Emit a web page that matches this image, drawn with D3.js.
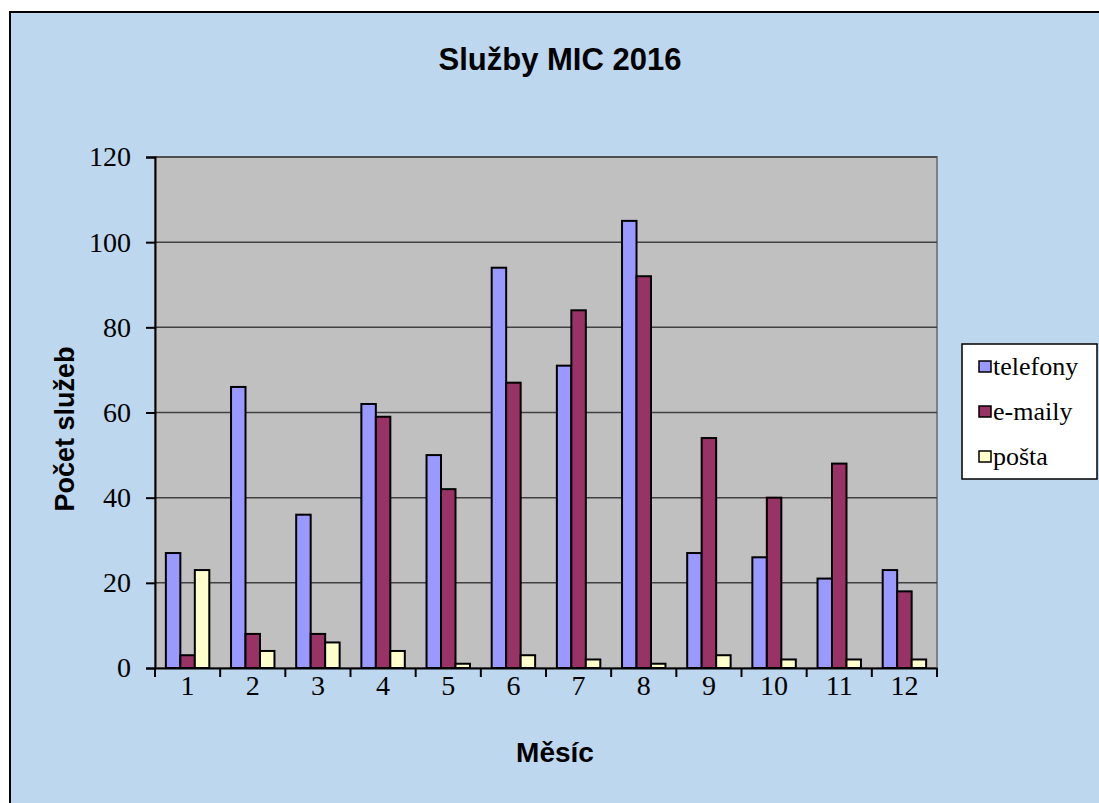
<!DOCTYPE html>
<html lang="en">
<head>
<meta charset="UTF-8">
<title>Služby MIC 2016</title>
<style>
    body { margin: 0; background: #fff; }
    .serif { font-family: "Liberation Serif", "Times New Roman", serif; }
    .sans { font-family: "Liberation Sans", Arial, sans-serif; font-weight: bold; }
</style>
</head>
<body>
<script src="https://d3js.org/d3.v7.min.js"></script>
<script>
    var months = ["1", "2", "3", "4", "5", "6", "7", "8", "9", "10", "11", "12"];
    var seriesNames = ["telefony", "e-maily", "pošta"];
    var telefony = [27, 66, 36, 62, 50, 94, 71, 105, 27, 26, 21, 23];
    var emaily = [3, 8, 8, 59, 42, 67, 84, 92, 54, 40, 48, 18];
    var posta = [23, 4, 6, 4, 1, 3, 2, 1, 3, 2, 2, 2];
    var yTicks = [0, 20, 40, 60, 80, 100, 120];
    var colors = ["#9999FF", "#993366", "#FFFFCC"];

    var width = 1099, height = 803;
    var plot = {left: 155, right: 937, top: 157, bottom: 668};

    var svg = d3.select("body").append("svg")
        .attr("width", width).attr("height", height);

    // chart background
    svg.append("rect")
        .attr("x", 10).attr("y", 12)
        .attr("width", width + 10).attr("height", height + 10)
        .attr("fill", "#BDD7EE")
        .attr("stroke", "#000").attr("stroke-width", 2);

    var x = d3.scaleBand().domain(months).range([plot.left, plot.right]);
    var barW = x.bandwidth() / 4.5;
    var xs = d3.scaleBand().domain(seriesNames)
        .range([barW * 0.75, barW * 3.75]);
    var y = d3.scaleLinear().domain([0, 120]).range([plot.bottom, plot.top]);

    // plot area
    svg.append("rect")
        .attr("x", plot.left).attr("y", plot.top)
        .attr("width", plot.right - plot.left).attr("height", plot.bottom - plot.top)
        .attr("fill", "#C0C0C0")
        .attr("stroke", "#808080").attr("stroke-width", 2);

    // gridlines
    svg.append("g")
        .selectAll("line")
        .data(yTicks.filter(function (d) { return d > 0; }))
        .enter().append("line")
        .attr("x1", plot.left).attr("x2", plot.right)
        .attr("y1", function (d) { return y(d); })
        .attr("y2", function (d) { return y(d); })
        .attr("stroke", "#404040").attr("stroke-width", 1.5);

    // bars
    var data = months.map(function (m, i) {
        return {month: m, values: [telefony[i], emaily[i], posta[i]]};
    });

    var groups = svg.append("g").selectAll("g")
        .data(data).enter().append("g")
        .attr("transform", function (d) { return "translate(" + x(d.month) + ",0)"; });

    groups.selectAll("rect")
        .data(function (d) {
            return d.values.map(function (v, i) { return {name: seriesNames[i], v: v, i: i}; });
        })
        .enter().append("rect")
        .attr("x", function (d) { return xs(d.name); })
        .attr("width", xs.bandwidth())
        .attr("y", function (d) { return y(d.v); })
        .attr("height", function (d) { return y(0) - y(d.v); })
        .attr("fill", function (d) { return colors[d.i]; })
        .attr("stroke", "#000").attr("stroke-width", 2);

    // y axis
    var yAxis = svg.append("g")
        .attr("transform", "translate(" + plot.left + ",0)")
        .call(d3.axisLeft(y).tickValues(yTicks).tickSize(9).tickPadding(15));
    yAxis.selectAll("path, line").attr("stroke", "#000").attr("stroke-width", 2);
    yAxis.selectAll("text").attr("class", "serif")
        .style("font-size", "28px").attr("fill", "#000");

    // x axis
    var xAxis = svg.append("g")
        .attr("transform", "translate(0," + plot.bottom + ")")
        .call(d3.axisBottom(x).tickSize(0).tickPadding(7));
    xAxis.select(".domain").attr("stroke", "#000").attr("stroke-width", 2);
    xAxis.selectAll("text").attr("class", "serif")
        .style("font-size", "28px").attr("fill", "#000");
    xAxis.selectAll(".sep")
        .data(months.concat(["end"]))
        .enter().append("line")
        .attr("x1", function (d, i) { return i < months.length ? x(d) : plot.right; })
        .attr("x2", function (d, i) { return i < months.length ? x(d) : plot.right; })
        .attr("y1", 0).attr("y2", 9)
        .attr("stroke", "#000").attr("stroke-width", 2);

    // titles
    svg.append("text").attr("class", "sans")
        .attr("x", 560).attr("y", 70)
        .attr("text-anchor", "middle")
        .style("font-size", "31px")
        .text("Služby MIC 2016");

    svg.append("text").attr("class", "sans")
        .attr("x", 555).attr("y", 762)
        .attr("text-anchor", "middle")
        .style("font-size", "28px")
        .text("Měsíc");

    svg.append("text").attr("class", "sans")
        .attr("transform", "translate(74,429) rotate(-90)")
        .attr("text-anchor", "middle")
        .style("font-size", "27px")
        .text("Počet služeb");

    // legend
    var legend = svg.append("g").attr("transform", "translate(962,344)");
    legend.append("rect")
        .attr("width", 135).attr("height", 135)
        .attr("fill", "#fff").attr("stroke", "#000").attr("stroke-width", 1.5);
    var items = legend.selectAll(".item")
        .data(seriesNames).enter().append("g")
        .attr("transform", function (d, i) { return "translate(0," + (23 + i * 45) + ")"; });
    items.append("rect")
        .attr("x", 17).attr("y", -6)
        .attr("width", 12).attr("height", 11)
        .attr("fill", function (d, i) { return colors[i]; })
        .attr("stroke", "#000").attr("stroke-width", 1.5);
    items.append("text").attr("class", "serif")
        .attr("x", 31).attr("y", 8)
        .style("font-size", "26px")
        .text(function (d) { return d; });
</script>
</body>
</html>
